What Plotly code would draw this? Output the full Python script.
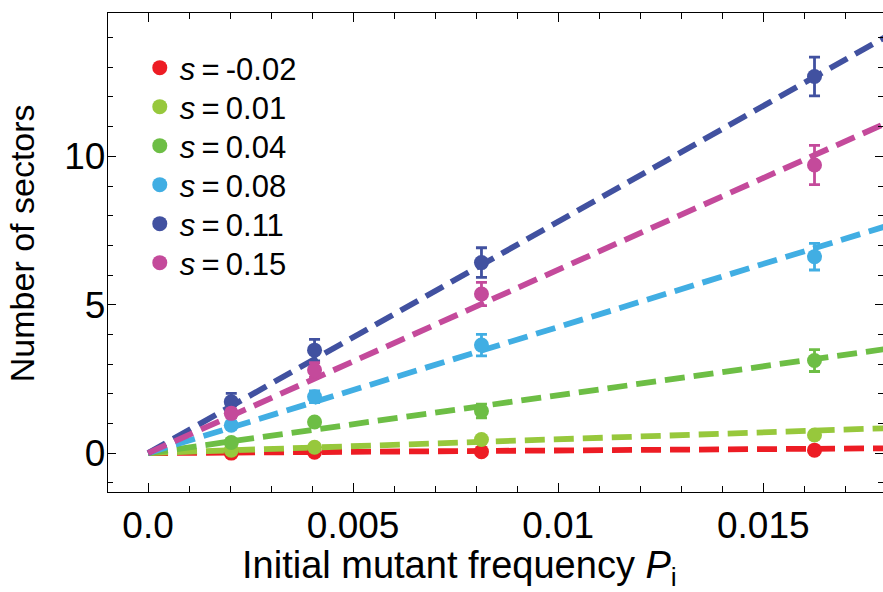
import plotly.graph_objects as go

# ---- data ----
x_freq = [0.00203, 0.00406, 0.00813, 0.01625]
s_labels = ["-0.02", "0.01", "0.04", "0.08", "0.11", "0.15"]
colors = ["#ED1C24", "#97C83C", "#6DBE45", "#41AEE3", "#4151A0", "#C44A9B"]

y_m002 = [0.00, 0.03, 0.05, 0.10]
y_p001 = [0.10, 0.20, 0.46, 0.61]
y_p004 = [0.36, 1.05, 1.42, 3.12]
y_p008 = [0.94, 1.90, 3.64, 6.62]
y_p011 = [1.73, 3.47, 6.42, 12.69]
y_p015 = [1.34, 2.80, 5.36, 9.71]

e_m002 = [0.03, 0.03, 0.05, 0.08]
e_p001 = [0.05, 0.05, 0.10, 0.12]
e_p004 = [0.10, 0.12, 0.23, 0.37]
e_p008 = [0.12, 0.20, 0.36, 0.45]
e_p011 = [0.28, 0.36, 0.50, 0.65]
e_p015 = [0.15, 0.25, 0.39, 0.66]

fit_slopes = [9.0, 46.7, 195.0, 425.0, 780.0, 618.0]

y_series = [y_m002, y_p001, y_p004, y_p008, y_p011, y_p015]
e_series = [e_m002, e_p001, e_p004, e_p008, e_p011, e_p015]

x_tickvals = [0.0, 0.005, 0.01, 0.015]
x_ticktext = ["0.0", "0.005", "0.01", "0.015"]
y_tickvals = [0, 5, 10]
y_ticktext = ["0", "5", "10"]

X_RANGE = [-0.000976, 0.01792]
Y_RANGE = [-1.31, 14.83]

FONT = "Liberation Sans, Arial, Helvetica, sans-serif"

MT, MB, H = 13, 100, 592
PLOT_H = H - MT - MB

fig = go.Figure()

# fit lines (through origin)
for slope, c in zip(fit_slopes, colors):
    xs = [0.0, X_RANGE[1] * 1.01]
    fig.add_trace(go.Scatter(
        x=xs, y=[slope * v for v in xs], mode="lines",
        line=dict(color=c, width=5.8, dash="20px,9px"),
        showlegend=False, hoverinfo="skip"))

# data points with error bars, each in its own legend box
legend_layout = {}
for i, (lab, c, ys, es) in enumerate(zip(s_labels, colors, y_series, e_series)):
    lname = "legend" if i == 0 else "legend%d" % (i + 1)
    fig.add_trace(go.Scatter(
        x=x_freq, y=ys, mode="markers",
        marker=dict(color=c, size=15, line=dict(width=0)),
        error_y=dict(type="data", array=es, visible=True, color=c,
                     thickness=2.8, width=5.5),
        name="<i>s</i>\u2009=\u2009" + lab, legend=lname))
    yc = 68 + 39 * i
    legend_layout[lname] = dict(
        x=0.041, xanchor="left", y=(H - MB - yc) / PLOT_H, yanchor="middle",
        font=dict(size=31, family=FONT), bgcolor="rgba(0,0,0,0)",
        borderwidth=0, itemsizing="trace")

fig.update_layout(
    width=883, height=592,
    margin=dict(l=108, r=0, t=MT, b=MB),
    paper_bgcolor="white", plot_bgcolor="white",
    font=dict(family=FONT, color="black", size=36),
    showlegend=True,
    xaxis=dict(range=X_RANGE, showgrid=False, zeroline=False,
               showline=True, linecolor="black", linewidth=1.4, mirror="ticks",
               ticks="inside", ticklen=9, tickwidth=1.4, tickcolor="black",
               tickvals=x_tickvals, ticktext=x_ticktext,
               tickfont=dict(size=37),
               minor=dict(dtick=0.001, tick0=0, ticks="inside", ticklen=6,
                          tickwidth=1.2, tickcolor="black", showgrid=False)),
    yaxis=dict(range=Y_RANGE, showgrid=False, zeroline=False,
               showline=True, linecolor="black", linewidth=1.4, mirror="ticks",
               ticks="inside", ticklen=8, tickwidth=1.4, tickcolor="black",
               tickvals=y_tickvals, ticktext=y_ticktext,
               tickfont=dict(size=37), ticklabelstandoff=-6,
               minor=dict(dtick=1, tick0=0, ticks="inside", ticklen=5,
                          tickwidth=1.2, tickcolor="black", showgrid=False)),
    **legend_layout,
)

fig.add_annotation(text="Initial mutant frequency <i>P</i><sub>i</sub>",
                   xref="paper", yref="paper", x=0.4530, y=-0.1590,
                   xanchor="center", yanchor="middle", showarrow=False,
                   font=dict(size=38, family=FONT))
fig.add_annotation(text="Number of sectors",
                   xref="paper", yref="paper", x=(21.7 - 108) / 775, y=(492 - 243.5) / 479,
                   xanchor="center", yanchor="middle", showarrow=False, textangle=-90,
                   font=dict(size=34, family=FONT))

fig.write_html("out.html",
               config={"displayModeBar": False},
               post_script="document.body.style.margin='0px';document.body.style.overflow='hidden';")
